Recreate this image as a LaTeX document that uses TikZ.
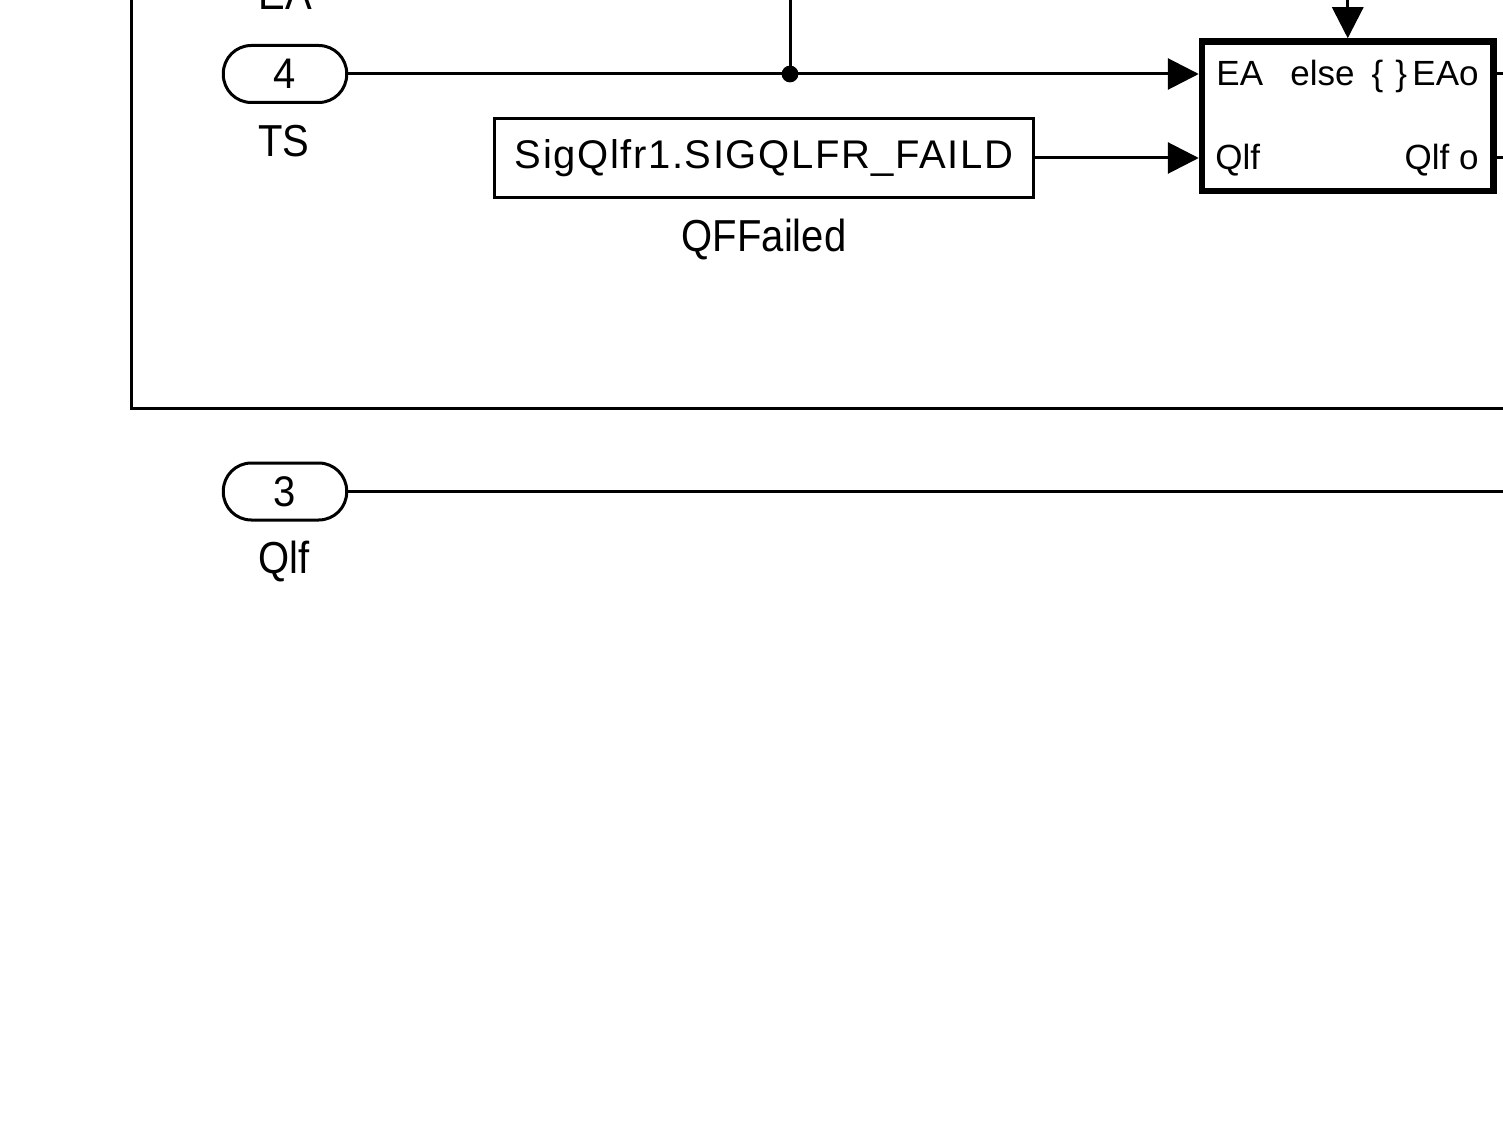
\documentclass[tikz,border=0pt]{standalone}
\usepackage{fontspec}
\usepackage{graphicx}
\setmainfont{Liberation Sans}
\newfontfamily\spacedfont[LetterSpace=4]{Liberation Sans}
\usetikzlibrary{arrows.meta}
\begin{document}
\begin{tikzpicture}[x=0.5pt,y=-0.5pt,
  wire/.style={line width=1.5pt},
  sigline/.style={wire, -{Triangle[length=15.5pt,width=15.5pt]}},
  inport/.style={draw, line width=1.5pt, rounded corners=14pt, minimum width=61.7pt, minimum height=28.5pt, inner sep=0pt, font=\fontsize{20}{24}\selectfont},
  lbl/.style={inner sep=0pt, anchor=base, font=\fontsize{20}{24}\selectfont},
  constblk/.style={draw, line width=1.5pt, minimum width=269.5pt, minimum height=39.5pt, inner sep=0pt, font=\spacedfont\fontsize{20}{24}\selectfont},
  subsys/.style={draw, line width=3.25pt, minimum width=145.75pt, minimum height=74.75pt, inner sep=0pt},
  portlbl/.style={inner sep=0pt, font=\fontsize{17.5}{21}\selectfont}
]
\useasboundingbox (0,0) rectangle (1503,1128);
\clip (0,0) rectangle (1503,1128);

% frame of enclosing area
\coordinate (ftl) at (131.5,-10);
\coordinate (fbl) at (131.5,408);
\coordinate (fbr) at (1510,408);
\draw[wire] (ftl) -- (fbl) -- (fbr);

% inports and labels
\node[lbl] (lea) at (285,10) {\scalebox{1}[1.12]{EA}};
\node[inport] (in4) at (285,74) {\scalebox{1}[1.07]{4}};
\node[lbl] (lts) at (284,157) {\scalebox{1}[1.12]{TS}};
\node[inport] (in3) at (285,491.5) {\scalebox{1}[1.07]{3}};
\node[lbl] (lqlf) at (284,573) {\scalebox{1}[1.12]{Qlf}};

% constant block
\node[constblk] (sig) at (764,158) {SigQlfr1.SIGQLFR\_FAILD};
\node[lbl] (lqf) at (764,252) {\scalebox{1}[1.12]{QFFailed}};

% if-action subsystem
\node[subsys] (sub) at (1347.75,116.25) {};
\node[portlbl, anchor=base west] (pea) at (1216,86) {EA};
\node[portlbl, anchor=base west] (pelse) at (1290,86) {else\hspace{8.5pt}\{\hspace{6pt}\}};
\node[portlbl, anchor=base east] (peao) at (1479,86) {EAo};
\node[portlbl, anchor=base west] (pqlf) at (1215,170) {Qlf};
\node[portlbl, anchor=base east] (pqlfo) at (1479,170) {Qlf o};

% connectors
\coordinate (jtop) at (790,-10);
\coordinate (j) at (790,74);
\draw[sigline] (in4.east) -- (in4.east -| sub.west);
\draw[wire] (jtop) -- (j);
\fill (j) circle[radius=4.2pt];
\draw[sigline] (sig.east) -- (sig.east -| sub.west);
\coordinate (subin) at (1347.75,-10);
\draw[sigline] (subin) -- (sub.north);
\coordinate (o1) at (1510,74);
\coordinate (o2) at (1510,158);
\draw[wire] (o1 -| sub.east) -- (o1);
\draw[wire] (o2 -| sub.east) -- (o2);
\coordinate (o3) at (1510,491.5);
\draw[wire] (in3.east) -- (o3);
\end{tikzpicture}
\end{document}
